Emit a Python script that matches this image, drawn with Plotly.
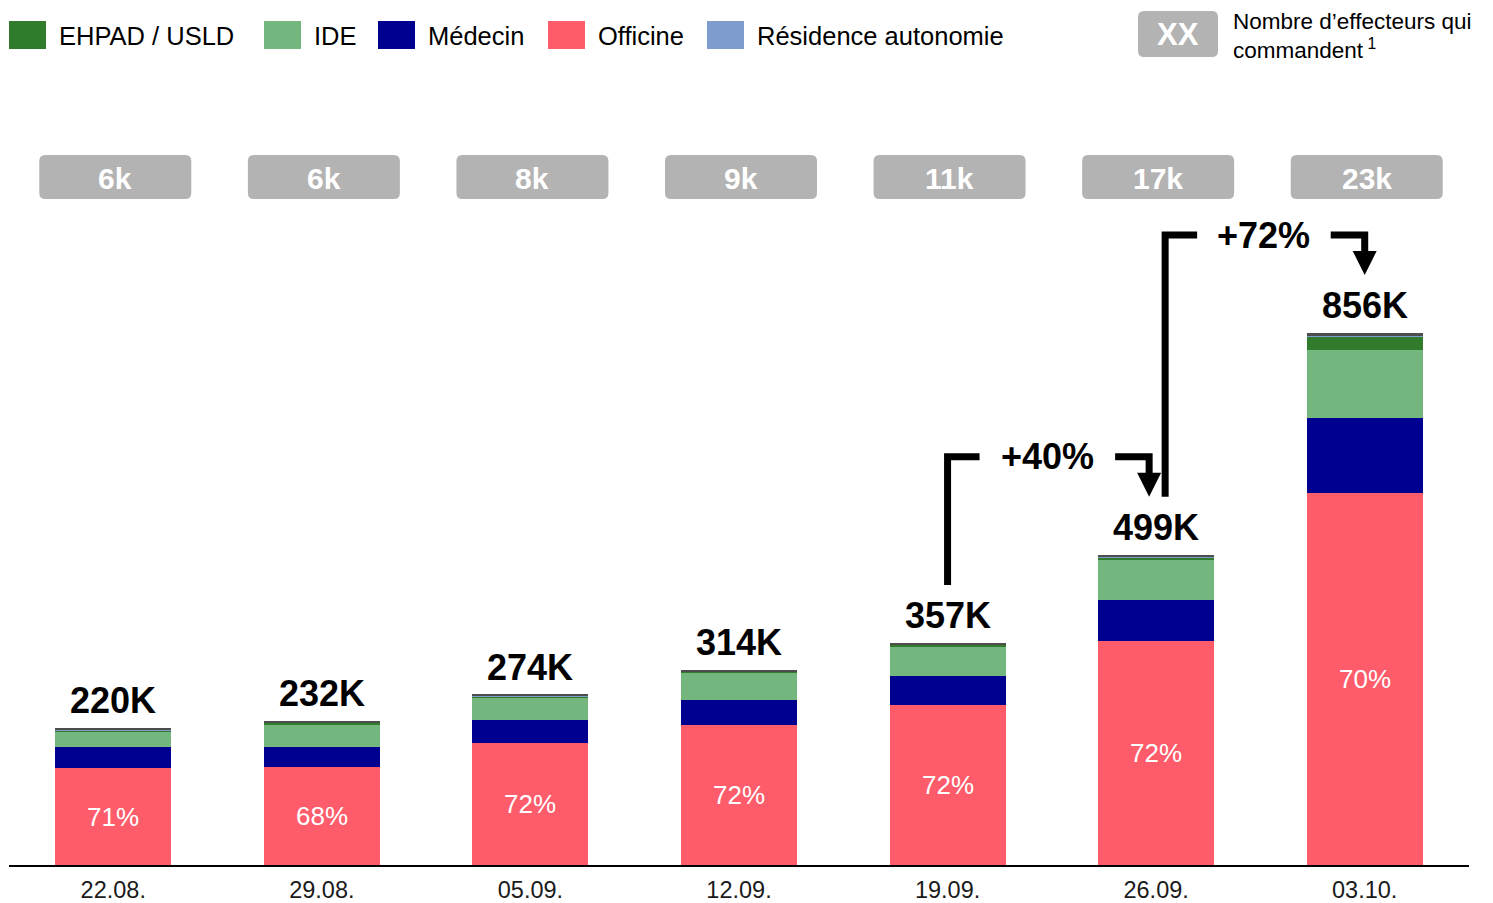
import plotly.graph_objects as go

# data (thousands of commandes per week)
weeks = ["22.08.", "29.08.", "05.09.", "12.09.", "19.09.", "26.09.", "03.10."]
totals = [220, 232, 274, 314, 357, 499, 856]
officine = [156, 158, 197, 226, 257, 360, 599]
medecin = [34, 32, 37, 40, 47, 66, 121]
ide = [25, 36, 35, 43, 47, 64, 108]
ehpad = [2, 3, 2, 2, 3, 5, 22]
residence = [1, 1, 1, 1, 1, 1, 1]
autres = [2, 2, 2, 2, 2, 3, 5]
officine_pct = [71, 68, 72, 72, 72, 72, 70]
effecteurs = [6, 6, 8, 9, 11, 17, 23]
growth_labels = ["+40%", "+72%"]
growth_pairs = [(4, 5), (5, 6)]

COLORS = {
    "EHPAD / USLD": "#317c2c",
    "IDE": "#73b77e",
    "Médecin": "#000090",
    "Officine": "#fe5c6b",
    "Résidence autonomie": "#7f9ccf",
}
GREY_BOX = "#b3b3b3"
FONT = "Liberation Sans, Arial, sans-serif"

# page body has an 8px margin, so the figure is shrunk by that amount
OFF = 8
W, H = 1493 - OFF, 903 - OFF
PLOT_L, PLOT_R, BASE = 9, 1469, 865  # in reference (window) pixels
KX = (PLOT_R - PLOT_L) / 7
KY = 0.6215  # px per thousand


def dx(px):
    return (px - PLOT_L) / KX - 0.5


def dy(py):
    return (BASE - py) / KY


def px_of(x):
    return PLOT_L + (x + 0.5) * KX


def py_of(y):
    return BASE - y * KY


x = list(range(len(weeks)))
bar_w = 116 / KX

fig = go.Figure()
series = [
    ("Officine", officine, COLORS["Officine"]),
    ("Médecin", medecin, COLORS["Médecin"]),
    ("IDE", ide, COLORS["IDE"]),
    ("EHPAD / USLD", ehpad, COLORS["EHPAD / USLD"]),
    ("Résidence autonomie", residence, COLORS["Résidence autonomie"]),
    ("Autres", autres, "#4d4d4d"),
]
for name, vals, col in series:
    fig.add_trace(go.Bar(
        x=x, y=vals, name=name, width=bar_w,
        marker=dict(color=col, line=dict(width=0)),
        showlegend=False, hoverinfo="skip",
    ))

annotations = []
shapes = []

# percentages inside officine + totals above bars
for i in x:
    annotations.append(dict(
        x=i, y=officine[i] / 2, xref="x", yref="y", text=f"{officine_pct[i]}%",
        showarrow=False, font=dict(family=FONT, size=26, color="white"),
    ))
    annotations.append(dict(
        x=i, y=totals[i], xref="x", yref="y", text=f"<b>{totals[i]}K</b>",
        showarrow=False, yanchor="bottom", yshift=5,
        font=dict(family=FONT, size=36, color="black"),
    ))


def rounded_rect(x0, x1, y0, y1, r_px=6):
    rx, ry = r_px / KX, r_px / KY
    return (f"M{x0 + rx},{y0} L{x1 - rx},{y0} Q{x1},{y0} {x1},{y0 + ry} "
            f"L{x1},{y1 - ry} Q{x1},{y1} {x1 - rx},{y1} L{x0 + rx},{y1} "
            f"Q{x0},{y1} {x0},{y1 - ry} L{x0},{y0 + ry} Q{x0},{y0} {x0 + rx},{y0} Z")


# effecteurs boxes
half = 76 / KX
for i in x:
    xc = i + 2 / KX
    shapes.append(dict(type="path", xref="x", yref="y",
                       path=rounded_rect(xc - half, xc + half, dy(199), dy(155)),
                       fillcolor=GREY_BOX, line=dict(width=0), layer="above"))
    annotations.append(dict(
        x=xc, y=dy(178), xref="x", yref="y", text=f"<b>{effecteurs[i]}k</b>",
        showarrow=False, font=dict(family=FONT, size=30, color="white"),
    ))

# growth brackets
offsets = [(0, -7), (9, 0)]
LW = 7
for (a, b), label, (oa, ob) in zip(growth_pairs, growth_labels, offsets):
    xa = px_of(a) + oa
    xb = px_of(b) + ob
    bottom = py_of(totals[a]) - 58
    level = py_of(totals[b]) - 98
    tip = py_of(totals[b]) - 58
    left_end = xa + 32
    right_start = xb - 34
    line = dict(color="black", width=LW)
    shapes.append(dict(type="path", xref="x", yref="y",
                       path=f"M{dx(xa)},{dy(bottom)} L{dx(xa)},{dy(level)} L{dx(left_end)},{dy(level)}",
                       line=line))
    shapes.append(dict(type="path", xref="x", yref="y",
                       path=f"M{dx(right_start)},{dy(level)} L{dx(xb)},{dy(level)} L{dx(xb)},{dy(tip - 22)}",
                       line=line))
    shapes.append(dict(type="path", xref="x", yref="y",
                       path=(f"M{dx(xb - 12)},{dy(tip - 24)} L{dx(xb + 12)},{dy(tip - 24)} "
                             f"L{dx(xb)},{dy(tip)} Z"),
                       fillcolor="black", line=dict(width=0)))
    annotations.append(dict(
        x=dx((left_end + right_start) / 2), y=dy(level), xref="x", yref="y",
        text=f"<b>{label}</b>", showarrow=False,
        font=dict(family=FONT, size=36, color="black"),
    ))

# custom legend
legend_items = [
    ("EHPAD / USLD", 9),
    ("IDE", 264),
    ("Médecin", 378),
    ("Officine", 548),
    ("Résidence autonomie", 707),
]
for name, lx in legend_items:
    shapes.append(dict(type="rect", xref="x", yref="y",
                       x0=dx(lx), x1=dx(lx + 37), y0=dy(49), y1=dy(21),
                       fillcolor=COLORS[name], line=dict(width=0)))
    annotations.append(dict(
        x=dx(lx + 48), y=dy(36), xref="x", yref="y", text=name,
        xanchor="left", showarrow=False,
        font=dict(family=FONT, size=25.5, color="black"),
    ))

shapes.append(dict(type="path", xref="x", yref="y",
                   path=rounded_rect(dx(1138), dx(1218), dy(57), dy(11), 6),
                   fillcolor=GREY_BOX, line=dict(width=0)))
annotations.append(dict(
    x=dx(1178), y=dy(34), xref="x", yref="y", text="<b>XX</b>",
    showarrow=False, font=dict(family=FONT, size=31, color="white"),
))
annotations.append(dict(
    x=dx(1232), y=dy(36), xref="x", yref="y",
    text="Nombre d’effecteurs qui<br>commandent<sup> 1</sup>",
    xanchor="left", align="left", showarrow=False, borderpad=0,
    font=dict(family=FONT, size=22.5, color="black"),
))

fig.update_layout(
    width=W, height=H,
    barmode="stack",
    margin=dict(l=PLOT_L - OFF, r=(W + OFF) - PLOT_R, t=0, b=(H + OFF) - BASE),
    plot_bgcolor="white", paper_bgcolor="white",
    showlegend=False,
    shapes=shapes, annotations=annotations,
    xaxis=dict(
        range=[-0.5, 6.5], tickvals=x, ticktext=weeks,
        showline=True, linecolor="black", linewidth=2,
        showgrid=False, zeroline=False, automargin=False,
        ticks="outside", ticklen=3, tickcolor="rgba(0,0,0,0)",
        tickfont=dict(family=FONT, size=23.5, color="#1a1a1a"),
        fixedrange=True,
    ),
    yaxis=dict(range=[0, (BASE - OFF) / KY], visible=False, fixedrange=True),
)

fig.write_html("out.html")
